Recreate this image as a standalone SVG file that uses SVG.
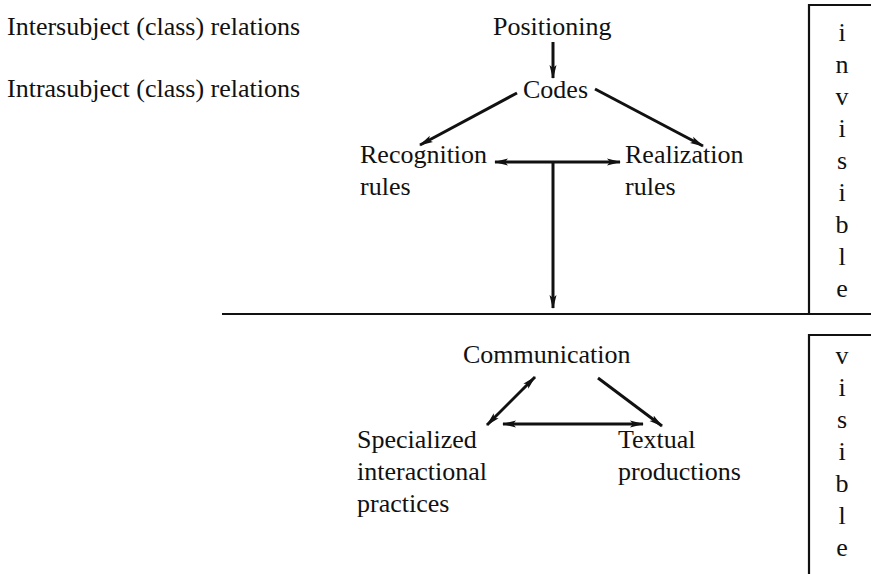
<svg xmlns="http://www.w3.org/2000/svg" width="871" height="574" viewBox="0 0 871 574">
<defs>
<style>
text{font-family:"Liberation Serif","Times New Roman",serif;font-size:26px;fill:#111}
.v{text-anchor:middle}
.c{stroke:#111;stroke-width:3;fill:none}
.r{stroke:#111;stroke-width:2.2;fill:none}
</style>
<marker id="ah" viewBox="0 0 14 8" refX="13" refY="4" markerWidth="14" markerHeight="8" markerUnits="userSpaceOnUse" orient="auto-start-reverse">
<path d="M0,0.5 L14,4 L0,7.5 L3,4 Z" fill="#111"/>
</marker>
</defs>
<rect width="871" height="574" fill="#fff"/>
<g id="labels">
<text x="7" y="35">Intersubject (class) relations</text>
<text x="7" y="97">Intrasubject (class) relations</text>
</g>
<g id="positioning"><text x="493" y="35">Positioning</text></g>
<g id="codes"><text x="523" y="98">Codes</text></g>
<g id="recognition"><text x="360" y="163">Recognition</text><text x="360" y="195">rules</text></g>
<g id="realization"><text x="625" y="163">Realization</text><text x="625" y="195">rules</text></g>
<g id="communication"><text x="463" y="363">Communication</text></g>
<g id="specialized"><text x="357" y="448">Specialized</text><text x="357" y="480">interactional</text><text x="357" y="512">practices</text></g>
<g id="textual"><text x="618" y="448">Textual</text><text x="618" y="480">productions</text></g>
<g id="invisible-box">
<path class="r" d="M871,5 H809 V314"/>
<text class="v" x="842" y="41">i</text>
<text class="v" x="842" y="73">n</text>
<text class="v" x="842" y="105">v</text>
<text class="v" x="842" y="137">i</text>
<text class="v" x="842" y="169">s</text>
<text class="v" x="842" y="201">i</text>
<text class="v" x="842" y="233">b</text>
<text class="v" x="842" y="265">l</text>
<text class="v" x="842" y="297">e</text>
</g>
<g id="visible-box">
<path class="r" d="M871,335 H809 V574"/>
<text class="v" x="842" y="364">v</text>
<text class="v" x="842" y="396">i</text>
<text class="v" x="842" y="428">s</text>
<text class="v" x="842" y="460">i</text>
<text class="v" x="842" y="492">b</text>
<text class="v" x="842" y="524">l</text>
<text class="v" x="842" y="556">e</text>
</g>
<g id="divider"><line class="r" x1="222" y1="314" x2="871" y2="314"/></g>
<g id="connectors">
<line class="c" x1="553" y1="42" x2="553" y2="78" marker-end="url(#ah)"/>
<line class="c" x1="517" y1="93" x2="420" y2="145" marker-end="url(#ah)"/>
<line class="c" x1="595" y1="89" x2="703" y2="146" marker-end="url(#ah)"/>
<line class="c" x1="495" y1="162" x2="620" y2="162" marker-start="url(#ah)" marker-end="url(#ah)"/>
<line class="c" x1="553" y1="162" x2="553" y2="308" marker-end="url(#ah)"/>
<line class="c" x1="535" y1="377" x2="487" y2="425" marker-start="url(#ah)" marker-end="url(#ah)"/>
<line class="c" x1="598" y1="378" x2="662" y2="426" marker-end="url(#ah)"/>
<line class="c" x1="503" y1="424" x2="643" y2="424" marker-start="url(#ah)" marker-end="url(#ah)"/>
</g>
</svg>
